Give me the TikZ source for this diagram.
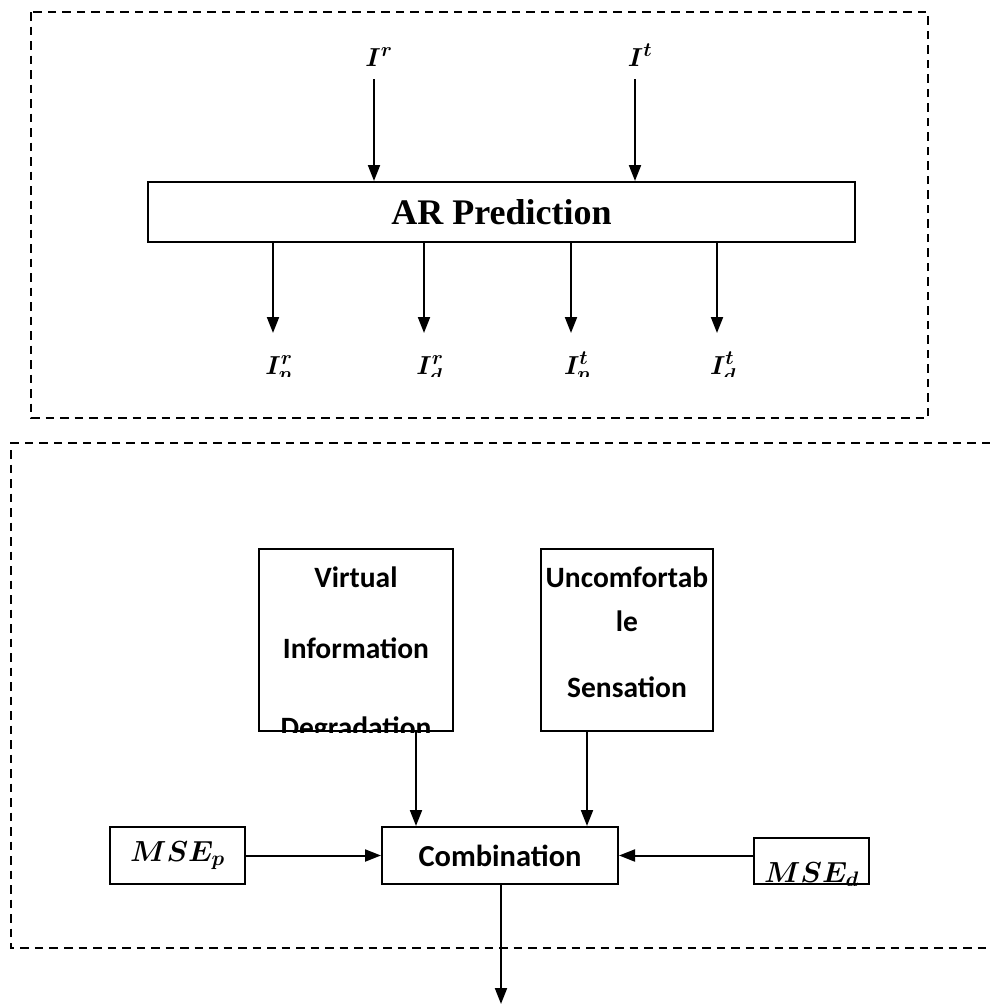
\RequirePackage{fix-cm}
\documentclass[tikz,border=0pt]{standalone}
\usepackage{amsmath}
\usepackage{bm}
\usepackage{fontspec}
\setmainfont{Liberation Serif}
\newfontfamily\carl{Carlito}
\usetikzlibrary{arrows.meta}
\DeclareMathSizes{26}{26}{20}{15}
\DeclareMathSizes{29}{29}{21}{16}
\begin{document}
\begin{tikzpicture}[x=1pt,y=-1pt,
  dashbox/.style={draw, line width=2.2pt, dash pattern=on 8.5pt off 6pt},
  box/.style={draw, line width=2pt, fill=white, inner sep=0pt},
  arr/.style={line width=2pt, -{Triangle[length=16pt,width=12pt]}},
  mlabel/.style={inner sep=0pt, font=\fontsize{26}{30}\selectfont},
  mselabel/.style={inner sep=0pt, font=\fontsize{29}{34}\selectfont},
  btxt/.style={inner sep=0pt, font=\carl\bfseries\fontsize{29.5}{44}\selectfont, align=center},
]
\useasboundingbox (0,0) rectangle (990,1005);

% ---------- upper part ----------
\draw[dashbox] (31,12) rectangle (928,418);
\node[box, minimum width=707pt, minimum height=60pt,
      font=\bfseries\fontsize{36}{40}\selectfont] (ar) at (501.5,212) {AR Prediction};

\node[mlabel, anchor=base] (ir) at (379,66) {$\bm{I^{r}}$};
\node[mlabel, anchor=base] (it) at (640,66) {$\bm{I^{t}}$};
\coordinate (irs) at (374,79);
\coordinate (its) at (635,79);
\draw[arr] (irs) -- (ar.north -| irs);
\draw[arr] (its) -- (ar.north -| its);

\coordinate (o1) at (273,333);
\coordinate (o2) at (424,333);
\coordinate (o3) at (571,333);
\coordinate (o4) at (717,333);
\foreach \c in {o1,o2,o3,o4}{\draw[arr] (ar.south -| \c) -- (\c);}

\begin{scope}
  \clip (0,0) rectangle (990,376);
  \node[mlabel, anchor=base] (ipr) at (279,374) {$\bm{I^{r}_{p}}$};
  \node[mlabel, anchor=base] (idr) at (430,374) {$\bm{I^{r}_{d}}$};
  \node[mlabel, anchor=base] (ipt) at (577,374) {$\bm{I^{t}_{p}}$};
  \node[mlabel, anchor=base] (idt) at (723,374) {$\bm{I^{t}_{d}}$};
\end{scope}

% ---------- lower part ----------
\draw[dashbox] (990,443) -- (11,443) -- (11,948) -- (990,948);

\node[box, anchor=north west, minimum width=194pt, minimum height=182pt] (vid) at (258,548) {};
\node[box, anchor=north west, minimum width=172pt, minimum height=182pt] (ucs) at (540,548) {};
\begin{scope}
  \clip (vid.south west) rectangle (vid.north east);
  \node[btxt, anchor=north] (vidt) at (vid.north |- 0,567) {Virtual\\[27pt]Information\\[35pt]Degradation};
\end{scope}
\node[btxt, anchor=north] (ucst) at (ucs.north |- 0,567) {Uncomfortab\\le\\[22pt]Sensation};

\node[box, minimum width=236pt, minimum height=57pt,
      font=\carl\bfseries\fontsize{30.5}{34}\selectfont] (comb) at (500,855.5) {Combination};
\node[box, minimum width=135pt, minimum height=57pt] (msep) at (177.5,855.5) {};
\node[mselabel] (msept) at (msep) {$\bm{MSE_{p}}$};
\node[box, minimum width=115pt, minimum height=46pt] (msed) at (811.5,861) {};
\begin{scope}
  \clip (msed.south west) rectangle (msed.north east);
  \node[mselabel, anchor=base] (msedt) at (811.5,882) {$\bm{MSE_{d}}$};
\end{scope}

\coordinate (va) at (416,0);
\coordinate (ua) at (587,0);
\draw[arr] (vid.south -| va) -- (comb.north -| va);
\draw[arr] (ucs.south -| ua) -- (comb.north -| ua);
\draw[arr] (msep.east) -- (comb.west);
\draw[arr] (msed.west |- comb.west) -- (comb.east);
\coordinate (out) at (501,1004);
\draw[arr] (comb.south -| out) -- (out);
\end{tikzpicture}
\end{document}
